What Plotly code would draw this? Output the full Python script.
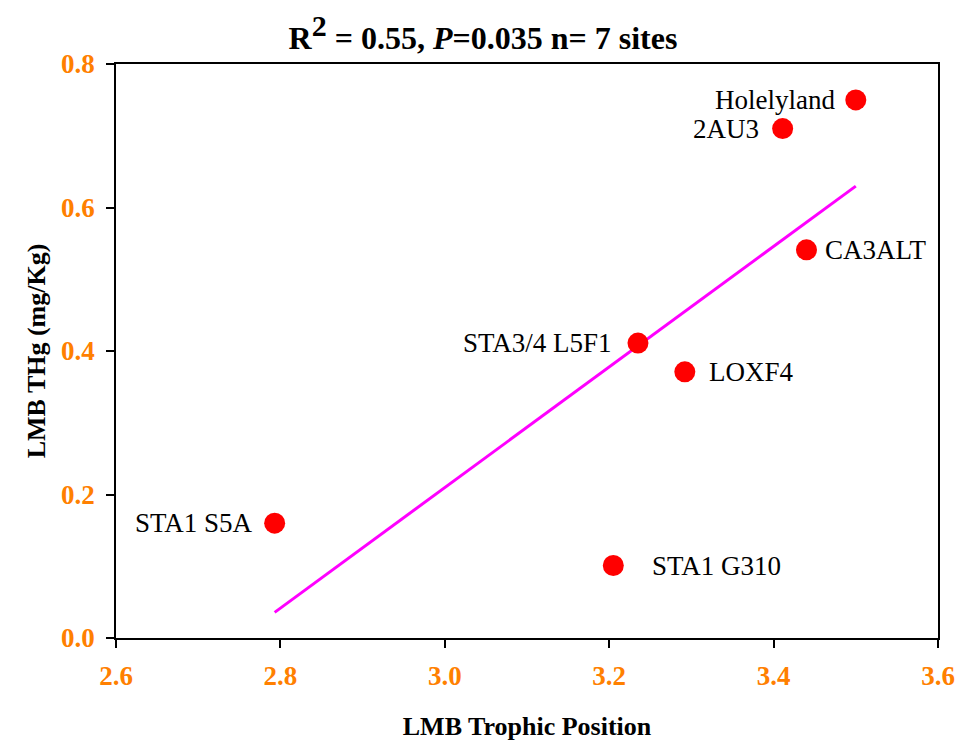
import numpy as np
import plotly.graph_objects as go

sites = ["Holelyland", "2AU3", "CA3ALT", "STA3/4 L5F1", "LOXF4", "STA1 S5A", "STA1 G310"]
trophic_position = [3.50, 3.411, 3.44, 3.235, 3.292, 2.793, 3.205]
thg = [0.75, 0.71, 0.541, 0.411, 0.371, 0.160, 0.101]
label_side = ["left", "left", "right", "left", "right", "left", "right"]
label_gap = [19, 22, 17, 24, 22, 20, 37]

x_ticks = [2.6, 2.8, 3.0, 3.2, 3.4, 3.6]
y_ticks = [0.0, 0.2, 0.4, 0.6, 0.8]

slope, intercept = np.polyfit(trophic_position, thg, 1)
fit_x = [min(trophic_position), max(trophic_position)]
fit_y = [slope * v + intercept for v in fit_x]

FONT = "Liberation Serif"
ORANGE = "#FF8000"

fig = go.Figure()
fig.add_trace(go.Scatter(x=fit_x, y=fit_y, mode="lines",
                         line=dict(color="#FF00FF", width=3), hoverinfo="skip"))
fig.add_trace(go.Scatter(x=trophic_position, y=thg, mode="markers",
                         marker=dict(color="#FF0000", size=21, line=dict(width=0)),
                         text=sites))

for s, xv, yv, side, gap in zip(sites, trophic_position, thg, label_side, label_gap):
    fig.add_annotation(x=xv, y=yv, text=s, showarrow=False,
                       xanchor="right" if side == "left" else "left",
                       yanchor="middle",
                       xshift=-gap if side == "left" else gap,
                       font=dict(family=FONT, size=27, color="black"))

fig.update_layout(
    width=959, height=742,
    margin=dict(l=116, r=21, t=64, b=104),
    paper_bgcolor="white", plot_bgcolor="white",
    showlegend=False,
    font=dict(family=FONT, color="black"),
    title=dict(text="<b>R<sup><span style=\"font-size:30px\">2</span></sup> = 0.55, <i>P</i>=0.035 n= 7 sites</b>",
               x=483 / 959, xref="container", xanchor="center",
               y=1 - 38 / 742, yref="container", yanchor="middle",
               font=dict(family=FONT, size=32, color="black")),
)
fig.update_xaxes(range=[2.6, 3.6], tickvals=x_ticks,
                 ticktext=[f"<b>{v:.1f}</b>" for v in x_ticks],
                 tickfont=dict(family=FONT, size=27, color=ORANGE),
                 ticks="outside", ticklen=8, tickwidth=1.5, tickcolor="black",
                 showline=True, linecolor="black", linewidth=1.5, mirror=True,
                 showgrid=False, zeroline=False, ticklabelstandoff=5,
                 automargin=False,
                 title=dict(text="<b>LMB Trophic Position</b>", standoff=27,
                            font=dict(family=FONT, size=26, color="black")))
fig.update_yaxes(range=[0.0, 0.8], tickvals=y_ticks,
                 ticktext=[f"<b>{v:.1f}</b>" for v in y_ticks],
                 tickfont=dict(family=FONT, size=27, color=ORANGE),
                 ticks="outside", ticklen=8, tickwidth=1.5, tickcolor="black",
                 showline=True, linecolor="black", linewidth=1.5, mirror=True,
                 showgrid=False, zeroline=False, ticklabelstandoff=6,
                 automargin=False,
                 title=dict(text="<b>LMB THg (mg/Kg)</b>", standoff=8,
                            font=dict(family=FONT, size=26, color="black")))

fig.write_html("out.html")
